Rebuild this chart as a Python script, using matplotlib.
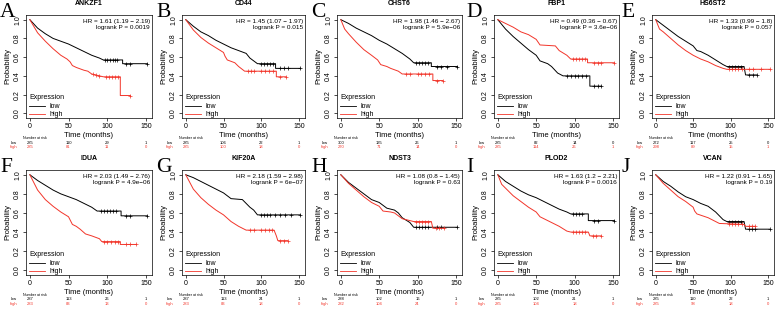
import numpy as np
import matplotlib
matplotlib.use("Agg")
import matplotlib.pyplot as plt
import matplotlib.transforms as mtransforms

plt.rcParams['font.family'] = ['Liberation Sans', 'DejaVu Sans']

# panel letters, genes and stats
letters = ["A", "B", "C", "D", "E", "F", "G", "H", "I", "J"]
genes = ["ANKZF1", "CD44", "CHST6", "FBP1", "HS6ST2",
         "IDUA", "KIF20A", "NDST3", "PLOD2", "VCAN"]
hr_labels = ["1.61 (1.19 \u2212 2.19)", "1.45 (1.07 \u2212 1.97)", "1.98 (1.46 \u2212 2.67)",
             "0.49 (0.36 \u2212 0.67)", "1.33 (0.99 \u2212 1.8)", "2.03 (1.49 \u2212 2.76)",
             "2.18 (1.59 \u2212 2.98)", "1.08 (0.8 \u2212 1.45)", "1.63 (1.2 \u2212 2.21)",
             "1.22 (0.91 \u2212 1.65)"]
p_labels = ["0.0019", "0.015", "5.9e\u221206", "3.6e\u221206", "0.057",
            "4.9e\u221206", "6e\u221207", "0.63", "0.0016", "0.19"]

# number at risk at 0, 50, 100, 150 months
risk_low = [[285, 110, 29, 1], [285, 106, 22, 1], [300, 135, 26, 1], [285, 82, 14, 0],
            [272, 117, 25, 0], [287, 113, 26, 1], [287, 113, 24, 1], [288, 102, 16, 1],
            [285, 102, 21, 1], [285, 110, 22, 1]]
risk_high = [[285, 81, 11, 0], [285, 100, 18, 0], [270, 71, 14, 0], [285, 114, 26, 1],
             [298, 89, 15, 1], [283, 83, 13, 0], [283, 83, 18, 0], [282, 104, 24, 0],
             [285, 104, 18, 0], [285, 98, 18, 0]]

# survival curves (months, probability)
ANKZF1_low = [(0, 1), (10, 0.91), (20, 0.85), (30, 0.80), (40, 0.77), (50, 0.74), (60, 0.70),
              (70, 0.66), (80, 0.62), (90, 0.59), (95, 0.57), (120, 0.57), (120, 0.53), (152, 0.53)]
ANKZF1_high = [(0, 1), (10, 0.86), (20, 0.77), (30, 0.69), (40, 0.62), (48, 0.58), (52, 0.55),
               (55, 0.51), (60, 0.49), (70, 0.46), (75, 0.45), (80, 0.42), (90, 0.40), (95, 0.39),
               (117, 0.39), (117, 0.19), (130, 0.19)]
CD44_low = [(0, 1), (10, 0.93), (20, 0.87), (30, 0.83), (40, 0.78), (50, 0.74), (60, 0.70),
            (70, 0.67), (80, 0.64), (85, 0.59), (90, 0.56), (95, 0.53), (119, 0.53), (119, 0.48),
            (152, 0.48)]
CD44_high = [(0, 1), (10, 0.89), (20, 0.81), (30, 0.75), (40, 0.70), (50, 0.65), (52, 0.61),
             (55, 0.57), (65, 0.54), (70, 0.50), (78, 0.45), (120, 0.45), (120, 0.39), (133, 0.39)]
CHST6_low = [(0, 1), (10, 0.96), (20, 0.91), (30, 0.87), (40, 0.83), (50, 0.78), (60, 0.74),
             (70, 0.69), (80, 0.64), (90, 0.58), (95, 0.54), (118, 0.54), (118, 0.50), (152, 0.50)]
CHST6_high = [(0, 1), (5, 0.90), (10, 0.85), (20, 0.76), (30, 0.68), (40, 0.62), (48, 0.57),
              (52, 0.52), (60, 0.50), (65, 0.48), (75, 0.45), (80, 0.42), (120, 0.42), (120, 0.35),
              (133, 0.35)]
FBP1_low = [(0, 1), (10, 0.90), (20, 0.82), (30, 0.75), (40, 0.68), (50, 0.62), (55, 0.56),
            (65, 0.53), (70, 0.50), (78, 0.43), (85, 0.40), (120, 0.40), (120, 0.29), (135, 0.29)]
FBP1_high = [(0, 1), (10, 0.96), (20, 0.92), (30, 0.87), (40, 0.84), (50, 0.79), (55, 0.73),
             (75, 0.72), (80, 0.67), (90, 0.62), (95, 0.58), (117, 0.58), (117, 0.54), (152, 0.54)]
HS6ST2_low = [(0, 1), (10, 0.94), (20, 0.88), (30, 0.82), (40, 0.77), (50, 0.72), (55, 0.67),
              (60, 0.66), (70, 0.62), (80, 0.57), (90, 0.52), (95, 0.50), (118, 0.50), (120, 0.41),
              (135, 0.41)]
HS6ST2_high = [(0, 1), (5, 0.90), (10, 0.87), (20, 0.80), (30, 0.73), (40, 0.67), (50, 0.62),
               (60, 0.58), (70, 0.55), (80, 0.51), (90, 0.48), (95, 0.47), (152, 0.47)]
IDUA_low = [(0, 1), (10, 0.94), (20, 0.89), (30, 0.84), (40, 0.80), (50, 0.77), (60, 0.74),
            (70, 0.70), (80, 0.66), (87, 0.62), (118, 0.62), (118, 0.57), (152, 0.57)]
IDUA_high = [(0, 1), (10, 0.84), (20, 0.74), (30, 0.67), (40, 0.61), (50, 0.56), (55, 0.48),
             (60, 0.46), (65, 0.43), (72, 0.38), (80, 0.36), (90, 0.33), (93, 0.30), (117, 0.30),
             (117, 0.27), (137, 0.27)]
KIF20A_low = [(0, 1), (10, 0.97), (20, 0.93), (30, 0.89), (40, 0.85), (50, 0.81), (55, 0.78),
              (60, 0.75), (75, 0.74), (80, 0.70), (85, 0.66), (90, 0.63), (95, 0.58), (152, 0.58)]
KIF20A_high = [(0, 1), (10, 0.85), (20, 0.76), (30, 0.69), (40, 0.63), (50, 0.58), (60, 0.51),
               (70, 0.46), (80, 0.42), (117, 0.42), (120, 0.36), (122, 0.31), (135, 0.31)]
NDST3_low = [(0, 1), (10, 0.92), (20, 0.86), (30, 0.80), (40, 0.74), (50, 0.71), (55, 0.68),
             (60, 0.65), (70, 0.63), (75, 0.60), (80, 0.55), (90, 0.50), (95, 0.45), (152, 0.45)]
NDST3_high = [(0, 1), (10, 0.91), (20, 0.84), (30, 0.77), (40, 0.71), (50, 0.67), (55, 0.62),
              (65, 0.61), (70, 0.60), (80, 0.54), (90, 0.52), (95, 0.51), (118, 0.51), (120, 0.44),
              (135, 0.44)]
PLOD2_low = [(0, 1), (10, 0.93), (20, 0.88), (30, 0.83), (40, 0.79), (50, 0.76), (60, 0.72),
             (70, 0.68), (80, 0.64), (90, 0.61), (95, 0.59), (118, 0.59), (118, 0.52), (152, 0.52)]
PLOD2_high = [(0, 1), (5, 0.90), (10, 0.86), (20, 0.78), (30, 0.72), (40, 0.66), (50, 0.61),
              (55, 0.56), (60, 0.54), (70, 0.50), (80, 0.46), (90, 0.41), (95, 0.40), (118, 0.40),
              (120, 0.36), (135, 0.36)]
VCAN_low = [(0, 1), (10, 0.93), (20, 0.88), (30, 0.82), (40, 0.77), (50, 0.74), (60, 0.70),
            (70, 0.67), (80, 0.61), (85, 0.57), (90, 0.53), (95, 0.51), (118, 0.51), (120, 0.43),
            (152, 0.43)]
VCAN_high = [(0, 1), (10, 0.91), (20, 0.84), (30, 0.77), (40, 0.72), (50, 0.66), (52, 0.62),
             (55, 0.59), (70, 0.55), (80, 0.51), (85, 0.49), (118, 0.48), (120, 0.46), (133, 0.46)]

# censored times marked with "+"
cens_low = [[97, 100, 104, 107, 110, 113, 125, 130, 152],
            [100, 104, 108, 112, 116, 125, 130, 136, 152],
            [98, 102, 106, 110, 114, 125, 130, 138, 152],
            [90, 95, 100, 105, 110, 115, 125, 130, 135],
            [98, 102, 106, 110, 114, 125, 130, 135],
            [92, 96, 100, 104, 108, 112, 125, 130, 152],
            [100, 104, 108, 112, 118, 125, 132, 140, 152],
            [98, 102, 106, 110, 114, 125, 130, 152],
            [98, 102, 106, 110, 125, 130, 152],
            [98, 102, 106, 110, 114, 124, 128, 132, 152]]
cens_high = [[82, 86, 90, 98, 102, 106, 110, 114, 130],
             [82, 86, 90, 100, 105, 110, 115, 125, 133],
             [85, 90, 100, 105, 110, 115, 125, 133],
             [98, 102, 106, 110, 114, 125, 130, 135, 152],
             [98, 102, 106, 110, 115, 125, 130, 140, 152],
             [96, 100, 105, 110, 114, 125, 130, 137],
             [85, 90, 100, 105, 110, 114, 125, 130, 135],
             [98, 102, 106, 110, 114, 124, 128, 135],
             [98, 102, 106, 110, 114, 124, 128, 135],
             [98, 102, 106, 110, 115, 124, 128, 133]]

curves_low = [ANKZF1_low, CD44_low, CHST6_low, FBP1_low, HS6ST2_low,
              IDUA_low, KIF20A_low, NDST3_low, PLOD2_low, VCAN_low]
curves_high = [ANKZF1_high, CD44_high, CHST6_high, FBP1_high, HS6ST2_high,
               IDUA_high, KIF20A_high, NDST3_high, PLOD2_high, VCAN_high]

W, H = 778, 309
RED = "#f2352a"
fig = plt.figure(figsize=(W / 100, H / 100), dpi=100)

col_lr = [(26, 152), (182, 305), (337, 462), (494, 619), (652, 774)]
row_tb = [(15, 118), (170, 275)]
letter_x = [0, 156, 311, 466, 621]


def draw_curve(ax, pts, cens, color):
    t = np.array([p[0] for p in pts], dtype=float)
    s = np.array([p[1] for p in pts], dtype=float)
    ax.plot(t, s, color=color, lw=0.7)
    cy = np.interp(cens, t, s)
    ax.plot(cens, cy, ls="none", marker="+", ms=2.2, mew=0.5, color=color)


for i in range(10):
    r, c = divmod(i, 5)
    l, rr = col_lr[c]
    top, bot = row_tb[r]
    ax = fig.add_axes([l / W, 1 - bot / H, (rr - l) / W, (bot - top) / H])

    draw_curve(ax, curves_low[i], cens_low[i], "black")
    draw_curve(ax, curves_high[i], cens_high[i], RED)

    ax.set_xlim(-5, 158)
    ax.set_ylim(-0.05, 1.05)
    ax.set_xticks([0, 50, 100, 150])
    ax.set_yticks([0, 0.2, 0.4, 0.6, 0.8, 1.0])
    ax.set_yticklabels(["0.0", "0.2", "0.4", "0.6", "0.8", "1.0"],
                       rotation=90, va="center")
    ax.tick_params(labelsize=5, length=2, width=0.5, pad=1.5)
    for sp in ax.spines.values():
        sp.set_linewidth(0.5)
    ax.set_xlabel("Time (months)", fontsize=5.5, labelpad=1.5)
    ax.set_ylabel("Probability", fontsize=5.5, labelpad=2)
    ax.set_title(genes[i], fontsize=5, fontweight="bold", pad=7)

    ax.text(0.985, 0.965, "HR = " + hr_labels[i] + "\nlogrank P = " + p_labels[i],
            transform=ax.transAxes, ha="right", va="top", fontsize=4.6,
            linespacing=1.3)

    leg_lines = [plt.Line2D([], [], color="black", lw=0.6),
                 plt.Line2D([], [], color=RED, lw=0.6)]
    leg = ax.legend(leg_lines, ["low", "high"], title="Expression", loc="lower left",
                    bbox_to_anchor=(-0.01, -0.04), frameon=False, fontsize=5,
                    title_fontsize=5, handlelength=2.3, handletextpad=0.6,
                    labelspacing=0.1, borderaxespad=0.2, alignment="left")
    leg._legend_box.sep = 1.5

    # panel letter
    fig.text(letter_x[c] / W, 1 - (top + 2) / H, letters[i], fontsize=15.5,
             family="Liberation Serif", ha="left", va="baseline")

    # number at risk table
    tr = mtransforms.blended_transform_factory(ax.transData, fig.transFigure)
    fig.text((l - 3) / W, 1 - (bot + 20) / H, "Number at risk", fontsize=2.6,
             ha="left", va="center")
    fig.text((l - 9) / W, 1 - (bot + 24.5) / H, "low", fontsize=3, ha="right",
             va="center", color="black")
    fig.text((l - 9) / W, 1 - (bot + 29) / H, "high", fontsize=3, ha="right",
             va="center", color=RED)
    for j, tt in enumerate([0, 50, 100, 150]):
        ax.text(tt, 1 - (bot + 24.5) / H, str(risk_low[i][j]), transform=tr,
                fontsize=3, ha="center", va="center", color="black")
        ax.text(tt, 1 - (bot + 29) / H, str(risk_high[i][j]), transform=tr,
                fontsize=3, ha="center", va="center", color=RED)

fig.savefig("out.png", dpi=100)
